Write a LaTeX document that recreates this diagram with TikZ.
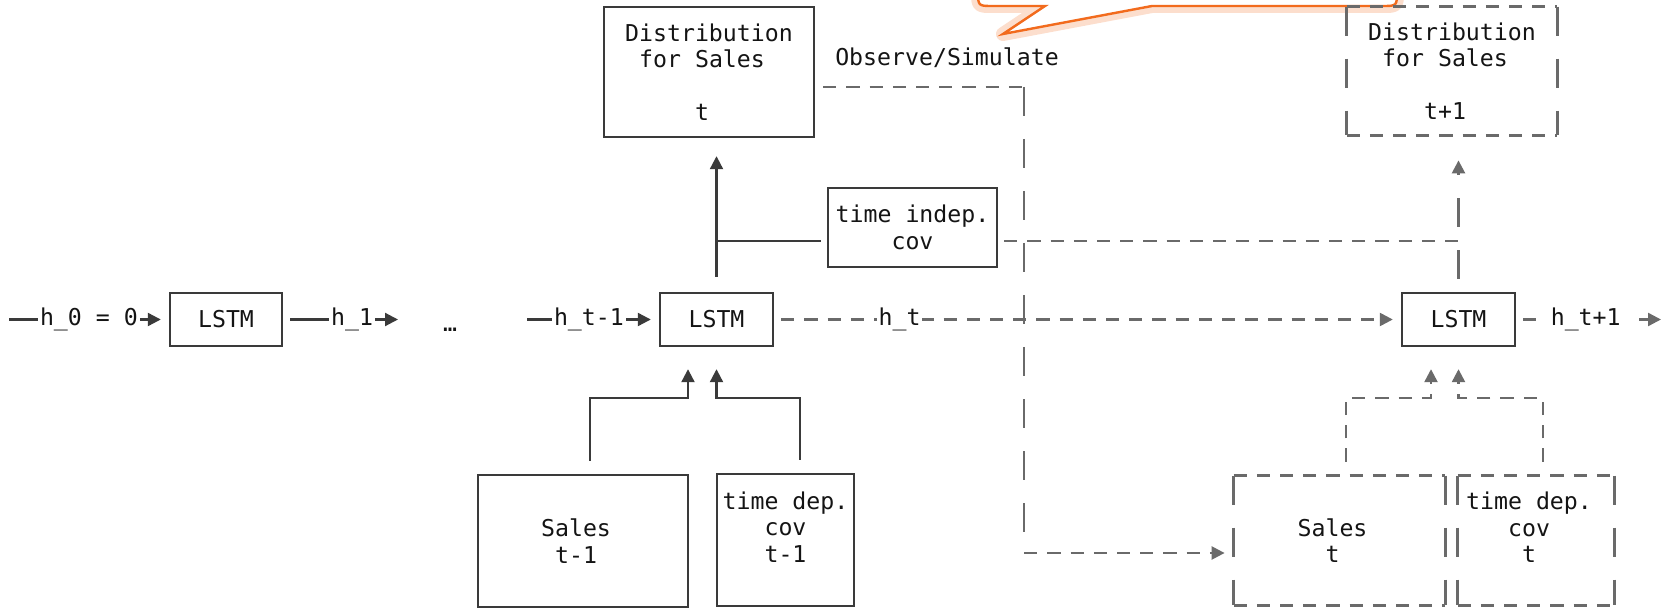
\documentclass[tikz,border=0pt]{standalone}
\usepackage{fontspec}
\newfontfamily\asciimono{DejaVu Sans Mono}
\usetikzlibrary{arrows.meta,calc}
\definecolor{inkc}{HTML}{141414}
\definecolor{linec}{HTML}{3A3A3A}
\definecolor{dashc}{HTML}{6A6A6A}
\definecolor{callc}{HTML}{F26B1D}
\begin{document}
\begin{tikzpicture}[x=0.5pt,y=-0.5pt,
  mfont/.style={font=\asciimono\fontsize{11.6}{13.2}\selectfont, text=inkc},
  boxn/.style={mfont, draw=linec, line width=1.2pt, inner sep=0pt},
  dboxn/.style={mfont, inner sep=0pt},
  lbl/.style={mfont, fill=white, inner sep=1pt},
  txt/.style={mfont, inner sep=0pt},
  solidln/.style={draw=linec, line width=1.1pt},
  hdash/.style={draw=dashc, line width=1.2pt, dash pattern=on 6.6pt off 5pt},
  vdash/.style={draw=dashc, line width=1.2pt, dash pattern=on 14.5pt off 11.5pt},
  arrowed/.style={-{Triangle[length=6.5pt,width=6.5pt]}},
]
\useasboundingbox (0,0) rectangle (1671,609);

% ---------- callout (partially visible) ----------
\begin{scope}
\clip (0,0) rectangle (1671,609);
\draw[callc!22, line width=7pt, line join=round]
  (978,-40) -- (978,-9) .. controls (978,6) .. (993,6) -- (1045,6) -- (1003,34) -- (1152,6)
  -- (1382,6) .. controls (1397,6) .. (1397,-9) -- (1397,-40);
\draw[callc, line width=1.2pt, fill=white, line join=miter]
  (978,-40) -- (978,-9) .. controls (978,6) .. (993,6) -- (1045,6) -- (1003,34) -- (1152,6)
  -- (1382,6) .. controls (1397,6) .. (1397,-9) -- (1397,-40);
\end{scope}

% ---------- nodes ----------
\node[boxn, minimum width=56pt, minimum height=26.5pt] (L1) at (226,319.5) {LSTM};
\node[boxn, minimum width=56.5pt, minimum height=26.5pt] (L2) at (716.5,319.5) {LSTM};
\node[boxn, minimum width=56.5pt, minimum height=26.5pt] (L3) at (1458.5,319.5) {LSTM};

\node[boxn, minimum width=105pt, minimum height=65pt, align=left] (dist) at (709,72)
  {Distribution\\~for Sales\\[13.2pt]~~~~~t};
\node[dboxn, minimum width=105pt, minimum height=64pt, align=left] (dt1) at (1452,71)
  {Distribution\\~for Sales\\[13.2pt]~~~~t+1};

\node[boxn, minimum width=84.5pt, minimum height=39.5pt, align=left] (ind) at (912.5,227.5)
  {time indep.\\~~~~cov};

\node[boxn, minimum width=105pt, minimum height=66pt, align=center] (sl) at (583,541)
  {Sales\phantom{x}\\t-1\phantom{x}};
\node[boxn, minimum width=68.5pt, minimum height=66pt, align=left] (td) at (785.5,540)
  {time dep.\\~~~cov\\~~~t-1\\~};

\node[dboxn, minimum width=105.5pt, minimum height=64.5pt, align=center] (st) at (1339.5,540.5)
  {Sales\phantom{x}\\t\phantom{x}};
\node[dboxn, minimum width=78pt, minimum height=64.5pt, align=left] (tt) at (1536,540.5)
  {time dep.\phantom{x}\\~~~cov\\~~~~t\\~};

\foreach \n in {dt1,st,tt}{
  \draw[hdash] (\n.north west) -- (\n.north east) (\n.south west) -- (\n.south east);
  \draw[vdash] (\n.north west) -- (\n.south west) (\n.north east) -- (\n.south east);
}

\node[txt, anchor=base] (dots) at (450,331) {…};
\node[txt] (obs) at (947,58) {Observe/Simulate};

% ---------- helper coordinates ----------
\coordinate (s0) at (9,319.5);
\coordinate (c1) at (398,319.5);
\coordinate (c2) at (527,319.5);
\coordinate (c3) at (1661,319.5);
\coordinate (iw) at ([yshift=-6.75pt]ind.west);
\coordinate (ie) at ([yshift=-6.75pt]ind.east);
\coordinate (a1) at ([xshift=-14.25pt,yshift=-11pt]L2.south);
\coordinate (a2) at ([yshift=-11pt]L2.south);
\coordinate (b1) at ([xshift=-13.75pt,yshift=-11pt]L3.south);
\coordinate (b2) at ([yshift=-11pt]L3.south);
\coordinate (s1) at ([xshift=3.5pt,yshift=6.5pt]sl.north);
\coordinate (s2) at ([xshift=7.25pt,yshift=6.5pt]td.north);
\coordinate (s3) at ([xshift=3.25pt,yshift=7pt]st.north);
\coordinate (s4) at ([xshift=3.5pt,yshift=7pt]tt.north);
\coordinate (ds) at ([yshift=-7.5pt]dist.east);
\coordinate (k1) at ($(ds)+(209,0)$);
\coordinate (se) at ([yshift=-6.25pt]st.west);
\coordinate (k2) at (k1 |- se);

% ---------- hidden state chain ----------
\draw[solidln, arrowed, shorten >=4pt] (s0) -- node[lbl, pos=0.5] {h\_0 = 0} (L1.west);
\draw[solidln, arrowed, shorten <=3.5pt] (L1.east) -- node[lbl, pos=0.6] {h\_1} (c1);
\draw[solidln, arrowed, shorten >=4pt] (c2) -- node[lbl, pos=0.47] {h\_t-1} (L2.west);
\draw[hdash, arrowed, shorten <=3.5pt, shorten >=4pt] (L2.east) -- node[lbl, pos=0.2] {h\_t} (L3.west);
\draw[hdash, arrowed, shorten <=3.5pt] (L3.east) -- node[lbl, pos=0.48, inner xsep=7pt] {h\_t+1} (c3);

% ---------- outputs ----------
\draw[solidln, arrowed, shorten <=7.5pt, shorten >=9pt] (L2.north) -- (L2.north |- dist.south);
\draw[vdash, arrowed, shorten <=6.5pt, shorten >=12.5pt] (L3.north) -- (L3.north |- dt1.south);

% ---------- time independent covariates ----------
\draw[solidln, shorten <=3pt] (iw) -- (iw -| L2.north);
\draw[hdash, shorten <=3pt] (ie) -- (ie -| L3.north);

% ---------- inputs at t-1 ----------
\draw[solidln, arrowed] (s1) |- ($(a1)+(0,29)$) -- (a1);
\draw[solidln, arrowed] (s2) |- ($(a2)+(0,29)$) -- (a2);

% ---------- inputs at t ----------
\draw[hdash, arrowed] (s3) |- ($(b1)+(0,29)$) -- (b1);
\draw[hdash, arrowed] (s4) |- ($(b2)+(0,29)$) -- (b2);

% ---------- observe / simulate ----------
\draw[hdash, shorten <=4pt] (ds) -- (k1);
\draw[vdash] (k1) -- (k2);
\draw[hdash, arrowed, shorten >=4.5pt] (k2) -- (se);
\end{tikzpicture}
\end{document}
